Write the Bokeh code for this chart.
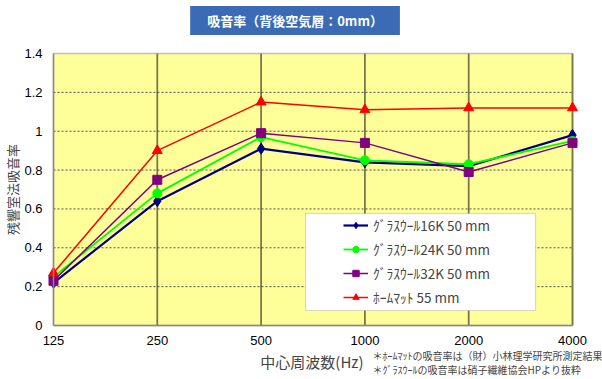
from bokeh.plotting import figure
from bokeh.models import Range1d, FixedTicker, Label, BoxAnnotation, Legend, LegendItem
from bokeh.embed import file_html
from bokeh.resources import INLINE

freqs = ["125", "250", "500", "1000", "2000", "4000"]
gw16 = [0.22, 0.64, 0.91, 0.84, 0.82, 0.98]
gw24 = [0.25, 0.68, 0.97, 0.85, 0.83, 0.95]
gw32 = [0.23, 0.75, 0.99, 0.94, 0.79, 0.94]
mat55 = [0.27, 0.90, 1.15, 1.11, 1.12, 1.12]
series_names = ["ｸﾞﾗｽｳｰﾙ16K 50 mm", "ｸﾞﾗｽｳｰﾙ24K 50 mm", "ｸﾞﾗｽｳｰﾙ32K 50 mm", "ﾎｰﾑﾏｯﾄ 55 mm"]
y_ticks = [0, 0.2, 0.4, 0.6, 0.8, 1.0, 1.2, 1.4]
y_tick_labels = ["0", "0.2", "0.4", "0.6", "0.8", "1", "1.2", "1.4"]
title_text = "吸音率（背後空気層：0mm）"
x_title = "中心周波数(Hz)"
y_title = "残響室法吸音率"
notes = ["＊ﾎｰﾑﾏｯﾄの吸音率は（財）小林理学研究所測定結果",
         "＊ｸﾞﾗｽｳｰﾙの吸音率は硝子繊維協会HPより抜粋"]

JP = "Noto Sans CJK JP"
LAT = "Liberation Sans"

xs = list(range(len(freqs)))
x_lo, x_hi = 0, len(freqs) - 1
y_lo, y_hi = y_ticks[0], y_ticks[-1]

# Frame covers the whole canvas; the plot area (0..5, 0..1.4) sits at 53..572 x 53..325 px
p = figure(width=602, height=379,
           x_range=Range1d(-0.5106, 5.289), y_range=Range1d(-0.2779, 1.6728),
           output_backend="svg", toolbar_location=None,
           min_border_left=0, min_border_right=0, min_border_top=0, min_border_bottom=0)
p.background_fill_color = "white"
p.border_fill_color = "white"
p.outline_line_color = None
p.xgrid.visible = False
p.ygrid.visible = False

# plot area background
p.quad(left=x_lo, right=x_hi, bottom=y_lo, top=y_hi, fill_color="#FFFF99",
       line_color="#C0C0C0", line_width=1.5, level="image")

# grid lines
p.segment(x0=xs[1:], y0=[y_lo] * (len(xs) - 1), x1=xs[1:], y1=[y_hi] * (len(xs) - 1),
          line_color="#77774A", line_width=1.8, level="underlay")
p.segment(x0=[x_lo] * (len(y_ticks) - 2), y0=y_ticks[1:-1], x1=[x_hi] * (len(y_ticks) - 2),
          y1=y_ticks[1:-1], line_color="#505050", line_width=1, line_dash="2 2", level="underlay")

# axes at fixed locations
p.xaxis.fixed_location = y_lo
p.yaxis.fixed_location = x_lo
p.xaxis.bounds = (x_lo, x_hi)
p.yaxis.bounds = (y_lo, y_hi)
p.xaxis.ticker = FixedTicker(ticks=xs)
p.xaxis.major_label_overrides = {i: f for i, f in enumerate(freqs)}
p.yaxis.ticker = FixedTicker(ticks=y_ticks)
p.yaxis.major_label_overrides = {t: l for t, l in zip(y_ticks, y_tick_labels)}
for ax in (p.xaxis, p.yaxis):
    ax.major_tick_out = 0
    ax.major_tick_in = 0
    ax.minor_tick_out = 0
    ax.minor_tick_in = 0
    ax.axis_line_color = "#888888"
    ax.axis_line_width = 1.5
    ax.major_label_text_font = LAT
    ax.major_label_text_font_size = "13px"
    ax.major_label_text_color = "#000000"
p.xaxis.major_label_standoff = 10
p.yaxis.major_label_standoff = 11
p.yaxis.axis_label = y_title
p.yaxis.axis_label_text_font = JP
p.yaxis.axis_label_text_font_size = "13px"
p.yaxis.axis_label_text_font_style = "normal"
p.yaxis.axis_label_standoff = -1

# series
r1 = p.line(xs, gw16, line_color="#000080", line_width=2.2)
m1 = p.scatter(xs, gw16, marker="diamond", size=11, fill_color="#000080", line_color="#000080")
r2 = p.line(xs, gw24, line_color="#00FF00", line_width=1.8)
m2 = p.scatter(xs, gw24, marker="circle", size=9, fill_color="#00FF00", line_color="#00FF00")
r3 = p.line(xs, gw32, line_color="#800080", line_width=1.5)
m3 = p.scatter(xs, gw32, marker="square", size=9, fill_color="#800080", line_color="#800080")
r4 = p.line(xs, mat55, line_color="#FF0000", line_width=1.5)
m4 = p.scatter(xs, mat55, marker="triangle", size=10, fill_color="#FF0000", line_color="#FF0000")

# legend box
box = BoxAnnotation(left=2.428, right=4.644, top=0.5765, bottom=0.0772,
                    fill_color="white", fill_alpha=1.0, line_color="#808080", line_width=1.2)
p.add_layout(box)

legend = Legend(items=[LegendItem(label=series_names[0], renderers=[r1, m1]),
                       LegendItem(label=series_names[1], renderers=[r2, m2]),
                       LegendItem(label=series_names[2], renderers=[r3, m3]),
                       LegendItem(label=series_names[3], renderers=[r4, m4])],
                location=(343, 72), background_fill_alpha=0, border_line_alpha=0,
                padding=0, margin=0, spacing=4, glyph_width=25, glyph_height=16,
                label_height=16, label_standoff=5,
                label_text_font=JP, label_text_font_size="13.5px")
p.add_layout(legend)

# x axis title and notes
p.add_layout(Label(x=2.49, y=-0.1853, text=x_title, text_align="center", text_baseline="middle",
                   text_font=JP, text_font_size="15px"))
p.add_layout(Label(x=3.073, y=-0.1544, text=notes[0], text_align="left", text_baseline="middle",
                   text_font=JP, text_font_size="10px"))
p.add_layout(Label(x=3.073, y=-0.2265, text=notes[1], text_align="left", text_baseline="middle",
                   text_font=JP, text_font_size="10px"))

# title box
p.add_layout(Label(x=2.327, y=1.5698, text=title_text, text_align="center", text_baseline="middle",
                   text_font=JP, text_font_size="13px", text_font_style="bold", text_color="white",
                   background_fill_color="#3A6BB4",
                   padding=dict(left=17, right=17, top=5, bottom=5)))

open("out.html", "w").write(file_html(p, INLINE))
